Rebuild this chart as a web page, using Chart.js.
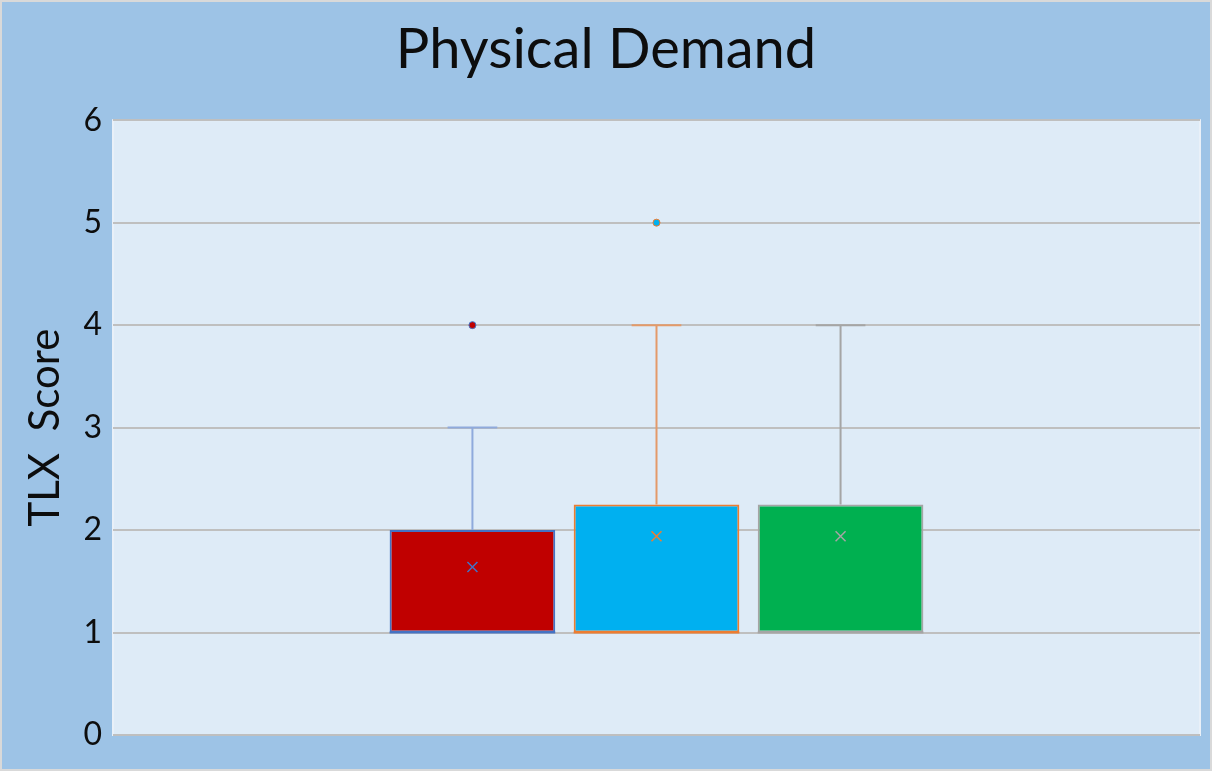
<!DOCTYPE html>
<html lang="en">
<head>
    <meta charset="UTF-8">
    <title>Physical Demand</title>
    <script src="https://cdn.jsdelivr.net/npm/chart.js"></script>
    <style>
        html, body { margin: 0; padding: 0; background: #9DC3E6; }
        .wrap { width: 1212px; height: 771px; position: relative; }
    </style>
</head>
<body>
<div class="wrap">
    <canvas id="boxChart"></canvas>
</div>

<script>
    // box plot values per series (TLX score)
    const seriesNames = ['Series 1', 'Series 2', 'Series 3'];
    const q1 = [1, 1, 1];
    const q3 = [2, 2.25, 2.25];
    const median = [1, 1, 1];
    const whiskerLow = [1, 1, 1];
    const whiskerHigh = [3, 4, 4];
    const means = [1.64, 1.94, 1.94];
    const outliers = [[4], [5], []];
    const yTicks = [0, 1, 2, 3, 4, 5, 6];

    const fillColors = ['#C00000', '#00B0F0', '#00B050'];
    const lineColors = ['#4472C4', '#ED7D31', '#A5A5A5'];
    const whiskerColors = ['#8FAADC', '#E39A6A', '#A5A5A5'];

    const FONT = "Lato, 'Noto Sans', sans-serif";

    // backgrounds behind everything
    const bgPlugin = {
        id: 'bgPlugin',
        beforeDraw(chart) {
            const { ctx, chartArea: a, width, height } = chart;
            ctx.save();
            ctx.fillStyle = '#9DC3E6';
            ctx.fillRect(0, 0, width, height);
            ctx.strokeStyle = '#D9D9D9';
            ctx.lineWidth = 2;
            ctx.strokeRect(1, 1, width - 2, height - 2);
            ctx.fillStyle = '#DEEBF7';
            ctx.fillRect(a.left, a.top, a.right - a.left, a.bottom - a.top);
            ctx.strokeStyle = '#E9F0F8';
            ctx.lineWidth = 2;
            ctx.strokeRect(a.left, a.top, a.right - a.left, a.bottom - a.top);
            ctx.restore();
        }
    };

    // whiskers, median, mean markers and outliers on top of the boxes
    const boxPlugin = {
        id: 'boxPlugin',
        afterDatasetsDraw(chart) {
            const { ctx } = chart;
            const y = chart.scales.y;
            chart.data.datasets.forEach((ds, i) => {
                const bar = chart.getDatasetMeta(i).data[0];
                if (!bar) return;
                const cx = bar.x;
                const cap = bar.width * 0.3;
                ctx.save();
                // whiskers
                ctx.strokeStyle = whiskerColors[i];
                ctx.lineWidth = 2;
                ctx.beginPath();
                ctx.moveTo(cx, y.getPixelForValue(q3[i]));
                ctx.lineTo(cx, y.getPixelForValue(whiskerHigh[i]));
                ctx.moveTo(cx - cap / 2, y.getPixelForValue(whiskerHigh[i]));
                ctx.lineTo(cx + cap / 2, y.getPixelForValue(whiskerHigh[i]));
                ctx.moveTo(cx, y.getPixelForValue(q1[i]));
                ctx.lineTo(cx, y.getPixelForValue(whiskerLow[i]));
                ctx.stroke();
                // median
                ctx.strokeStyle = lineColors[i];
                ctx.beginPath();
                ctx.moveTo(bar.x - bar.width / 2, y.getPixelForValue(median[i]));
                ctx.lineTo(bar.x + bar.width / 2, y.getPixelForValue(median[i]));
                ctx.stroke();
                // mean marker (x)
                const my = y.getPixelForValue(means[i]);
                const s = 5;
                ctx.lineWidth = 1.5;
                ctx.beginPath();
                ctx.moveTo(cx - s, my - s);
                ctx.lineTo(cx + s, my + s);
                ctx.moveTo(cx + s, my - s);
                ctx.lineTo(cx - s, my + s);
                ctx.stroke();
                // outliers
                outliers[i].forEach(v => {
                    ctx.beginPath();
                    ctx.arc(cx, y.getPixelForValue(v), 3.5, 0, Math.PI * 2);
                    ctx.fillStyle = fillColors[i];
                    ctx.fill();
                    ctx.lineWidth = 1;
                    ctx.strokeStyle = lineColors[i];
                    ctx.stroke();
                });
                ctx.restore();
            });
        }
    };

    const ctx = document.getElementById('boxChart').getContext('2d');
    new Chart(ctx, {
        type: 'bar',
        data: {
            labels: [''],
            datasets: seriesNames.map((name, i) => ({
                label: name,
                data: [[q1[i], q3[i]]],
                backgroundColor: fillColors[i],
                borderColor: lineColors[i],
                borderWidth: 2,
                borderSkipped: false,
                categoryPercentage: 0.508,
                barPercentage: 0.9
            }))
        },
        options: {
            responsive: true,
            maintainAspectRatio: false,
            animation: false,
            layout: {
                padding: { left: 12, right: 12, top: 0, bottom: 36 }
            },
            plugins: {
                legend: { display: false },
                tooltip: { enabled: false },
                title: {
                    display: true,
                    text: 'Physical Demand',
                    color: '#0D0D0D',
                    font: { family: FONT, size: 56, weight: 'normal', lineHeight: 1.2 },
                    padding: { top: 16, bottom: 37 }
                }
            },
            scales: {
                x: {
                    display: false
                },
                y: {
                    min: 0,
                    max: 6,
                    afterFit(scale) { scale.width = 101; },
                    afterBuildTicks(scale) { scale.ticks = yTicks.map(v => ({ value: v })); },
                    border: { display: false },
                    grid: { color: '#BFBFBF', lineWidth: 2, drawTicks: false },
                    ticks: {
                        color: '#0D0D0D',
                        padding: 11,
                        font: { family: FONT, size: 32 }
                    },
                    title: {
                        display: true,
                        text: 'TLX  Score',
                        color: '#0D0D0D',
                        font: { family: FONT, size: 42, lineHeight: 1.2 },
                        padding: { top: 8, bottom: 0 }
                    }
                }
            }
        },
        plugins: [bgPlugin, boxPlugin]
    });
</script>
</body>
</html>
